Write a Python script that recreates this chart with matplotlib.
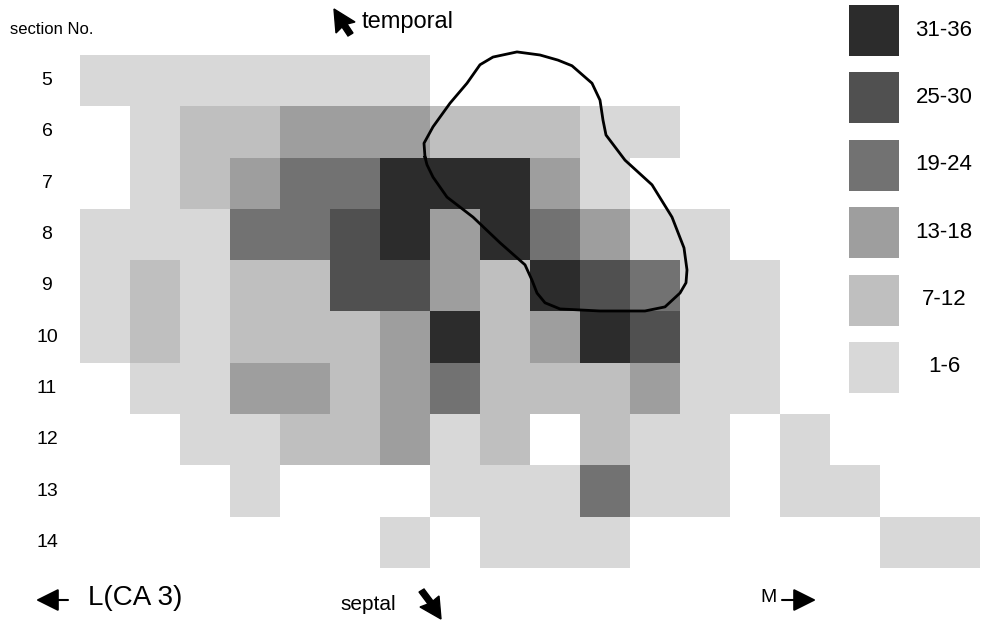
import numpy as np
import matplotlib
matplotlib.use('Agg')
import matplotlib.pyplot as plt
from matplotlib.colors import ListedColormap, BoundaryNorm
from matplotlib.patches import Rectangle, Polygon

plt.rcParams['font.family'] = ['Liberation Sans', 'DejaVu Sans']

# section numbers (rows) and density class per column (0 = empty, 1 = 1-6 ... 6 = 31-36)
sections = [5, 6, 7, 8, 9, 10, 11, 12, 13, 14]
density = [
    [1, 1, 1, 1, 1, 1, 1, 0, 0, 0, 0, 0, 0, 0, 0, 0, 0, 0],
    [0, 1, 2, 2, 3, 3, 3, 2, 2, 2, 1, 1, 0, 0, 0, 0, 0, 0],
    [0, 1, 2, 3, 4, 4, 6, 6, 6, 3, 1, 0, 0, 0, 0, 0, 0, 0],
    [1, 1, 1, 4, 4, 5, 6, 3, 6, 4, 3, 1, 1, 0, 0, 0, 0, 0],
    [1, 2, 1, 2, 2, 5, 5, 3, 2, 6, 5, 4, 1, 1, 0, 0, 0, 0],
    [1, 2, 1, 2, 2, 2, 3, 6, 2, 3, 6, 5, 1, 1, 0, 0, 0, 0],
    [0, 1, 1, 3, 3, 2, 3, 4, 2, 2, 2, 3, 1, 1, 0, 0, 0, 0],
    [0, 0, 1, 1, 2, 2, 3, 1, 2, 0, 2, 1, 1, 0, 1, 0, 0, 0],
    [0, 0, 0, 1, 0, 0, 0, 1, 1, 1, 4, 1, 1, 0, 1, 1, 0, 0],
    [0, 0, 0, 0, 0, 0, 1, 0, 1, 1, 1, 0, 0, 0, 0, 0, 1, 1],
]
legend_labels = ['31-36', '25-30', '19-24', '13-18', '7-12', '1-6']

# CA3 outline (column units, section units)
outline_x = [6.90, 6.88, 7.06, 7.40, 7.74, 8.00, 8.26, 8.74, 9.20, 9.56, 9.84, 10.24,
             10.40, 10.46, 10.52, 10.90, 11.44, 11.84, 12.08, 12.14, 12.12, 12.00, 11.70,
             11.30, 10.40, 9.60, 9.30, 9.14, 9.04, 8.90, 8.40, 7.86, 7.34, 7.06, 6.94, 6.90]
outline_y = [6.49, 6.22, 5.90, 5.44, 5.05, 4.69, 4.54, 4.44, 4.50, 4.60, 4.71, 5.05,
             5.38, 5.77, 6.06, 6.55, 7.03, 7.66, 8.26, 8.69, 8.94, 9.14, 9.41,
             9.49, 9.49, 9.45, 9.33, 9.14, 8.89, 8.59, 8.16, 7.66, 7.27, 6.88, 6.64, 6.49]

greys = ['#ffffff', '#d8d8d8', '#bfbfbf', '#9e9e9e', '#727272', '#505050', '#2c2c2c']
cmap = ListedColormap(greys)
norm = BoundaryNorm(np.arange(-0.5, 7.5, 1), cmap.N)

W, H = 984, 620
fig = plt.figure(figsize=(W / 100, H / 100), dpi=100)

ax = fig.add_axes([80 / W, (H - 568) / H, 900 / W, (568 - 55) / H])
grid = np.ma.masked_equal(np.array(density), 0)
ncol = grid.shape[1]
col_edges = np.arange(ncol + 1)
row_edges = np.arange(sections[0] - 0.5, sections[-1] + 1.0, 1)
ax.pcolormesh(col_edges, row_edges, grid, cmap=cmap, norm=norm)
ax.plot(outline_x, outline_y, color='black', lw=2, clip_on=False)
ax.set_xlim(0, ncol)
ax.set_ylim(sections[-1] + 0.5, sections[0] - 0.5)
ax.axis('off')
for s in sections:
    ax.text(-0.66, s, str(s), ha='center', va='center', fontsize=14)

# overlay in pixel units for labels / arrows / legend
ov = fig.add_axes([0, 0, 1, 1])
ov.patch.set_visible(False)
ov.set_xlim(0, W)
ov.set_ylim(H, 0)
ov.axis('off')

for i, lab in enumerate(legend_labels):
    top = 5 + i * 67.4
    ov.add_patch(Rectangle((849, top), 50, 51, facecolor=greys[6 - i], edgecolor='none'))
    ov.text(944, top + 25, lab, ha='center', va='center', fontsize=16)

ov.text(10, 30, 'section No.', ha='left', va='center', fontsize=12)
ov.text(362, 22, 'temporal', ha='left', va='center', fontsize=17)
# pointer arrows
ov.add_patch(Polygon([(334, 9), (336, 33), (342, 27), (348, 36), (353, 33), (347, 24), (355, 22)],
                     closed=True, facecolor='black', edgecolor='black'))
ov.text(340, 604, 'septal', ha='left', va='center', fontsize=15)
ov.add_patch(Polygon([(441, 619), (439, 596), (433, 601), (424, 589), (419, 592), (428, 604), (420, 607)],
                     closed=True, facecolor='black', edgecolor='black'))
ov.text(88, 598, 'L(CA 3)', ha='left', va='center', fontsize=20)
ov.annotate('', xy=(36, 600), xytext=(68, 600),
            arrowprops=dict(arrowstyle='-|>,head_length=1.4,head_width=0.7', color='black', lw=1.5,
                            shrinkA=0, shrinkB=0))
ov.text(760, 597, 'M', ha='left', va='center', fontsize=14)
ov.annotate('', xy=(816, 600), xytext=(782, 600),
            arrowprops=dict(arrowstyle='-|>,head_length=1.4,head_width=0.7', color='black', lw=1.5,
                            shrinkA=0, shrinkB=0))

fig.savefig('out.png', dpi=100)
